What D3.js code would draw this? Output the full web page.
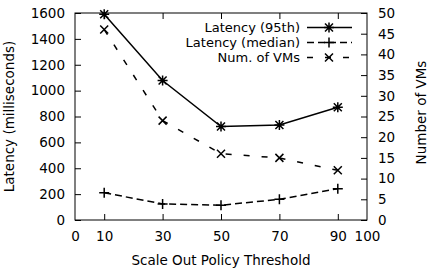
<!DOCTYPE html>
<html><head><meta charset="utf-8">
<script src="https://cdn.jsdelivr.net/npm/d3@7"></script>
<style>body{margin:0;background:#fff}svg{display:block}text{font-family:"DejaVu Sans",sans-serif;fill:#000}</style>
</head><body>
<script>
const thresholds = [10, 30, 50, 70, 90];
const latency95 = [1590, 1078, 722, 735, 872];
const latencyMedian = [211, 124, 114, 160, 242];
const numVMs = [46, 24, 16, 15, 12];
const xTicks = [0, 10, 30, 50, 70, 90, 100];
const yTicks = [0, 200, 400, 600, 800, 1000, 1200, 1400, 1600];
const y2Ticks = [0, 5, 10, 15, 20, 25, 30, 35, 40, 45, 50];

const W = 433, H = 270;
const m = {l: 75, r: 66, t: 13, b: 50};
const svg = d3.select("body").append("svg").attr("width", W).attr("height", H);
const x = d3.scaleLinear().domain([0, 100]).range([m.l, W - m.r]);
const y = d3.scaleLinear().domain([0, 1600]).range([H - m.b, m.t]);
const y2 = d3.scaleLinear().domain([0, 50]).range([H - m.b, m.t]);
const fs = 13.5;
const fmt = d3.format("d");

// frame
svg.append("rect").attr("x", m.l).attr("y", m.t).attr("width", W - m.r - m.l).attr("height", H - m.b - m.t)
  .attr("fill", "none").attr("stroke", "#000").attr("stroke-width", 1);

// axes
const ax = svg.append("g").attr("transform", `translate(0,${H - m.b})`)
  .call(d3.axisBottom(x).tickValues(xTicks).tickSize(-6).tickPadding(11).tickFormat(fmt));
const axTop = svg.append("g").attr("transform", `translate(0,${m.t})`)
  .call(d3.axisTop(x).tickValues(xTicks).tickSize(-6).tickFormat(""));
const ay = svg.append("g").attr("transform", `translate(${m.l},0)`)
  .call(d3.axisLeft(y).tickValues(yTicks).tickSize(-6).tickPadding(10).tickFormat(fmt));
const ay2 = svg.append("g").attr("transform", `translate(${W - m.r},0)`)
  .call(d3.axisRight(y2).tickValues(y2Ticks).tickSize(-6).tickPadding(11).tickFormat(fmt));
[ax, axTop, ay, ay2].forEach(g => {
  g.select(".domain").remove();
  g.selectAll("line").attr("stroke", "#000");
  g.selectAll("text").attr("font-size", fs).attr("font-family", "DejaVu Sans");
});
ax.selectAll(".tick").filter(d => d === 0 || d === 100).select("line").remove();
axTop.selectAll(".tick").filter(d => d === 0 || d === 100).remove();

// axis labels
svg.append("text").attr("x", 221).attr("y", 265).attr("text-anchor", "middle")
  .attr("font-size", fs).text("Scale Out Policy Threshold");
svg.append("text").attr("transform", "translate(14,116.5) rotate(-90)").attr("text-anchor", "middle")
  .attr("font-size", fs).text("Latency (milliseconds)");
svg.append("text").attr("transform", "translate(426,112.5) rotate(-90)").attr("text-anchor", "middle")
  .attr("font-size", fs).text("Number of VMs");

// marker paths
const S = 5;
const mk = {
  star: `M${-S},0H${S}M0,${-S}V${S}M${-S*0.8},${-S*0.8}L${S*0.8},${S*0.8}M${-S*0.8},${S*0.8}L${S*0.8},${-S*0.8}`,
  plus: `M${-S},0H${S}M0,${-S}V${S}`,
  cross: `M${-S*0.8},${-S*0.8}L${S*0.8},${S*0.8}M${-S*0.8},${S*0.8}L${S*0.8},${-S*0.8}`
};

const series = [
  {name: "Latency (95th)", vals: latency95, sc: y, dash: null, mk: "star"},
  {name: "Latency (median)", vals: latencyMedian, sc: y, dash: "7,4", mk: "plus"},
  {name: "Num. of VMs", vals: numVMs, sc: y2, dash: "6,12", mk: "cross"}
];

series.forEach(s => {
  const pts = thresholds.map((t, i) => [x(t), s.sc(s.vals[i])]);
  svg.append("path").attr("d", d3.line()(pts)).attr("fill", "none").attr("stroke", "#000")
    .attr("stroke-width", 1.5).attr("stroke-dasharray", s.dash);
  svg.selectAll(null).data(pts).join("path").attr("transform", d => `translate(${d[0]},${d[1]})`)
    .attr("d", mk[s.mk]).attr("stroke", "#000").attr("stroke-width", 1.5).attr("fill", "none");
});

// legend
const ly = [27.5, 42.5, 57.5];
series.forEach((s, i) => {
  svg.append("text").attr("x", 300).attr("y", ly[i]).attr("dy", "0.35em").attr("text-anchor", "end")
    .attr("font-size", 13).text(s.name);
  svg.append("path").attr("d", d3.line()([[307, ly[i]], [352, ly[i]]])).attr("stroke", "#000")
    .attr("stroke-width", 1.5).attr("stroke-dasharray", s.dash);
  svg.append("path").attr("transform", `translate(329,${ly[i]})`).attr("d", mk[s.mk])
    .attr("stroke", "#000").attr("stroke-width", 1.5).attr("fill", "none");
});
</script>
</body></html>
